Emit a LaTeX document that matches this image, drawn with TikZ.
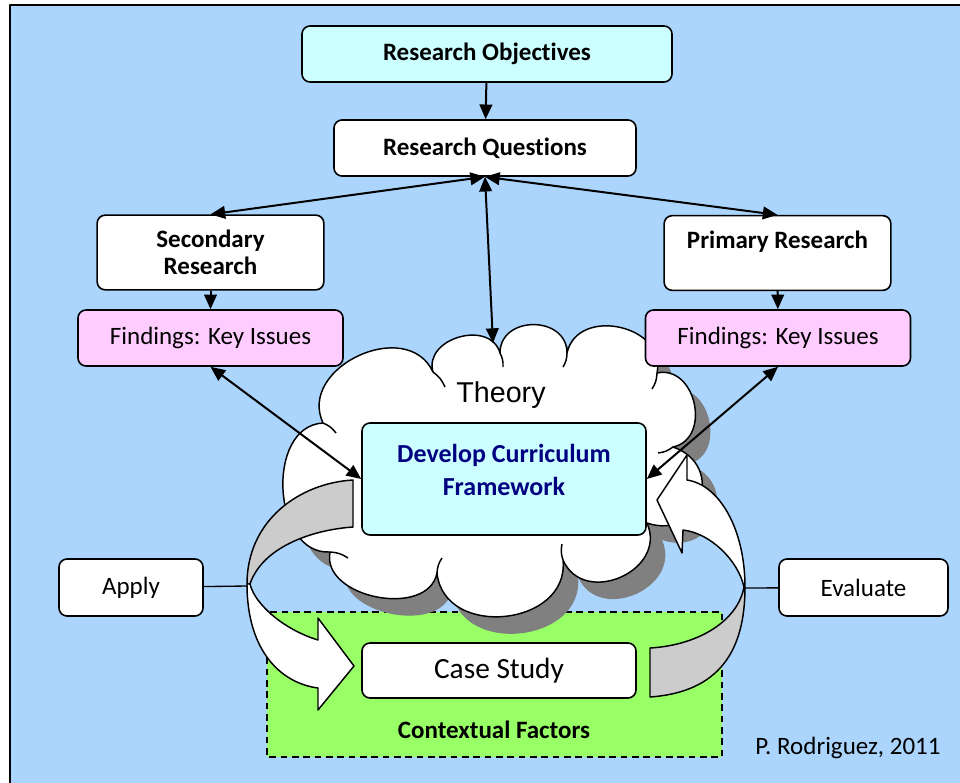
\documentclass[tikz,border=0pt]{standalone}
\usepackage{fontspec}
\setmainfont{Carlito}[Ligatures=CommonOff]
\newfontfamily\arialfont{Liberation Sans}
\usetikzlibrary{arrows.meta}
\definecolor{skyback}{RGB}{171,213,253}
\definecolor{paleblue}{RGB}{204,255,255}
\definecolor{palepink}{RGB}{255,204,255}
\definecolor{limegreen}{RGB}{153,255,102}
\definecolor{ribbongray}{RGB}{204,204,204}
\definecolor{shadowgray}{RGB}{128,128,128}
\definecolor{navytext}{RGB}{0,0,128}

\begin{document}
\begin{tikzpicture}
	[x=0.75pt,y=-0.75pt,line join=round,
	every node/.style={font=\fontsize{18.75}{20.25}\selectfont},
	box/.style={draw,rounded corners=6pt,line width=1.2pt,fill=white,align=center,inner sep=0pt},
	title/.style={box,font=\fontsize{18.75}{20.25}\selectfont\bfseries},
	edge/.style={line width=1.5pt,> = {Triangle[length=11pt,width=9.5pt]}},
	ribbon/.style={draw,line width=1.1pt}]
	\clip (0,0) rectangle (960,782);
	\fill[white] (0,0) rectangle (960,782);
	\draw[fill=skyback,line width=1.5pt] (10,5) rectangle (980,800);

	\draw[fill=limegreen,line width=1.3pt,dash pattern=on 5pt off 3.5pt] (267,612) rectangle (722,757);
	\node (ctx) at (494,730) {\bfseries Contextual Factors};
	\node (author) at (848,748) {P. Rodriguez, 2011};

	\def\cloudpath{(323,423) to[bend left=90,looseness=1.3] (433,372)
		to[bend left=90,looseness=1.3] (500,353)
		to[bend left=90,looseness=1.45] (567,353)
		to[bend left=90,looseness=1.35] (657,373)
		to[bend left=90,looseness=1.35] (673,447)
		to[bend left=90,looseness=1.8] (647,523)
		to[bend left=90,looseness=1.45] (563,560)
		to[bend left=90,looseness=1.35] (437,573)
		to[bend left=90,looseness=1.1] (330,552)
		to[bend left=90,looseness=1.15] (323,423) -- cycle}
	\fill[shadowgray,shift={(15,17)}] \cloudpath;
	\draw[fill=white,line width=1.1pt] \cloudpath;
	\foreach \ax/\ay/\bx/\by in {433/372/445/387, 500/353/503/367, 567/353/563/367, 657/373/652/389,
		673/447/658/453, 563/560/562/544, 437/573/442/558, 330/552/348/558, 323/423/336/433}
	\draw[line width=1.1pt] (\ax,\ay) to[bend left=15] (\bx,\by);
	\coordinate (cloudtop) at (493,343);
	\node[font=\arialfont\fontsize{21.5}{24}\selectfont] (theory) at (501,395) {Theory};

	\node[title,fill=paleblue,minimum width=277.5pt,minimum height=42pt] (obj) at (487,54) {Research Objectives};
	\node[title,minimum width=226.5pt,minimum height=42pt] (quest) at (485,148) {Research Questions};
	\node[title,minimum width=170pt,minimum height=56pt] (second) at (210.5,252.5) {Secondary\\Research};
	\node[title,minimum width=170pt,minimum height=56pt] (primary) at (777.5,253) {Primary Research\\\mbox{}};
	\node[box,fill=palepink,minimum width=198.75pt,minimum height=42pt] (findl) at (210.5,338) {Findings: Key Issues};
	\node[box,fill=palepink,minimum width=198.75pt,minimum height=42pt] (findr) at (778,338) {Findings: Key Issues};
	\node[box,fill=paleblue,minimum width=213pt,minimum height=84pt] (dev) at (504,479) {};
	\node[text=navytext,align=center,font=\fontsize{19.5}{25}\selectfont\bfseries] (devtext) at (504,470) {Develop Curriculum\\Framework};
	\node[box,minimum width=108pt,minimum height=42.75pt] (apply) at (131,587.5) {Apply};
	\node[box,minimum width=126.75pt,minimum height=42.75pt] (eval) at (863.5,587.5) {Evaluate};
	\node[box,minimum width=205.5pt,minimum height=41.25pt,font=\fontsize{22}{24}\selectfont] (case) at (499,670.5) {Case Study};

	\draw[edge,->] (obj) -- (quest);
	\foreach \to in {second.north,primary.north,cloudtop}
	\draw[edge,<->] (quest.south) -- (\to);
	\draw[edge,->] (second) -- (findl);
	\draw[edge,->] (primary) -- (findr);
	\draw[edge,<->] (findl.south) -- (dev.west);
	\draw[edge,<->] (findr.south) -- (dev.east);

	\coordinate (lefttwist) at (247,586);
	\coordinate (righttwist) at (745,588);
	\draw[line width=1pt] (apply) -- (lefttwist);
	\draw[line width=1pt] (eval) -- (righttwist);

	\draw[ribbon,fill=ribbongray] (353,480) .. controls (300,483) and (247,520) .. (247,584)
		-- (250,584) .. controls (262,548) and (310,530) .. (353,527) -- cycle;
	\draw[ribbon,fill=white] (247,584) .. controls (247,650) and (280,683) .. (318,688)
		-- (318,710) -- (354,666) -- (318,618) -- (318,640)
		.. controls (285,630) and (255,605) .. (250,584) -- cycle;
	\draw[ribbon,fill=ribbongray] (650,648) .. controls (700,645) and (738,620) .. (744,587)
		-- (745,587) .. controls (745,650) and (720,692) .. (650,697) -- cycle;
	\draw[ribbon,fill=white] (745,587) .. controls (745,530) and (720,485) .. (687,480)
		-- (687,455) -- (657,500) -- (682,553) -- (683,530)
		.. controls (710,533) and (738,560) .. (744,587) -- cycle;
\end{tikzpicture}
\end{document}
